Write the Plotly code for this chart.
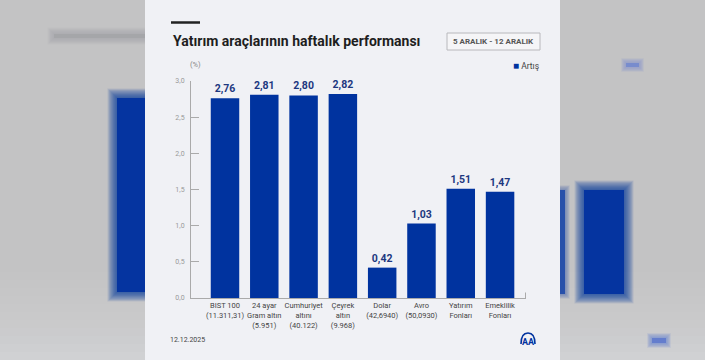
import plotly.graph_objects as go

# ---- data ----
categories = ["BIST 100<br>(11.311,31)", "24 ayar<br>Gram altın<br>(5.951)",
              "Cumhuriyet<br>altını<br>(40.122)", "Çeyrek<br>altın<br>(9.968)",
              "Dolar<br>(42,6940)", "Avro<br>(50,0930)",
              "Yatırım<br>Fonları", "Emeklilik<br>Fonları"]
values = [2.76, 2.81, 2.80, 2.82, 0.42, 1.03, 1.51, 1.47]
series_name = "Artış"
title_text = "Yatırım araçlarının haftalık performansı"
date_range = "5 ARALIK - 12 ARALIK"
footer_date = "12.12.2025"
y_ticks = [0, 0.5, 1.0, 1.5, 2.0, 2.5, 3.0]

W, H = 705, 360
BLUE = "#00339f"
NAVY = "#1d3880"

def px(x):
    return x / W

def py(y):
    return 1 - y / H

fig = go.Figure()
fig.add_trace(go.Bar(
    x=list(range(len(categories))), y=values, name=series_name,
    marker=dict(color=BLUE, line=dict(width=0)), width=0.725,
    texttemplate="%{y:.2f}", textposition="outside",
    textfont=dict(family="Roboto", size=10.5, color=NAVY, weight="bold"),
    cliponaxis=False, showlegend=False, hoverinfo="skip",
))

shapes = []

# soft gradient of the blurred backdrop
for i in range(12):
    shapes.append(dict(type="rect", xref="paper", yref="paper",
                       x0=0, x1=1, y0=py(360 - i * 8), y1=1,
                       fillcolor="rgba(190,191,194,0.06)", line=dict(width=0), layer="below"))

# blurred background elements (outside card)
def blur_rect(x0, y0, x1, y1, rgb, steps=12, spread=0.8, alpha=0.09):
    for i in range(steps, 0, -1):
        d = i * spread
        shapes.append(dict(type="rect", xref="paper", yref="paper",
                           x0=px(x0 - d), x1=px(x1 + d), y0=py(y1 + d), y1=py(y0 - d),
                           fillcolor=f"rgba({rgb},{alpha})",
                           line=dict(width=0), layer="below"))
    shapes.append(dict(type="rect", xref="paper", yref="paper",
                       x0=px(x0), x1=px(x1), y0=py(y1), y1=py(y0),
                       fillcolor=f"rgb({rgb})", line=dict(width=0), layer="below"))

blur_rect(117, 98, 160, 292, "5,52,160")
blur_rect(584, 190, 624, 294, "5,52,160")
blur_rect(554, 190, 565, 294, "40,80,170", steps=6)
blur_rect(54, 34, 160, 38, "165,166,169", steps=8, alpha=0.12)
blur_rect(626, 63, 639, 67, "120,140,205", steps=6, alpha=0.12)
blur_rect(652, 338, 666, 343, "100,125,205", steps=6, alpha=0.14)
# card on top of blurs
shapes.append(dict(type="rect", xref="paper", yref="paper", x0=px(145), x1=px(560),
                   y0=0, y1=1, fillcolor="#f0f1f5", line=dict(width=0), layer="below"))

# short dark rule above title
shapes.append(dict(type="line", xref="paper", yref="paper", x0=px(171), x1=px(200),
                   y0=py(22.5), y1=py(22.5), line=dict(color="#222222", width=2.5)))
# date box
shapes.append(dict(type="rect", xref="paper", yref="paper", x0=px(447), x1=px(540),
                   y0=py(50), y1=py(33), fillcolor="#f5f5f7",
                   line=dict(color="#b8b8bc", width=1)))
# right-end tick of x axis
shapes.append(dict(type="line", xref="paper", yref="paper", x0=px(525.5), x1=px(525.5),
                   y0=py(298), y1=py(292.5), line=dict(color="#aaaaaa", width=1)))
# AA logo arc
shapes.append(dict(type="path", xref="paper", yref="paper",
                   path=f"M {px(521)},{py(344)} Q {px(521)},{py(333)} {px(528)},{py(333)} Q {px(535)},{py(333)} {px(535)},{py(344)}",
                   line=dict(color=BLUE, width=1.6)))

annotations = [
    dict(text=f"<b>{title_text}</b>", x=px(171), y=py(41), xref="paper", yref="paper",
         xanchor="left", yanchor="middle", showarrow=False,
         font=dict(family="Roboto", size=14, color="#1e1e1e")),
    dict(text=f"<b>{date_range}</b>", x=px(493.5), y=py(41.5), xref="paper", yref="paper",
         xanchor="center", yanchor="middle", showarrow=False,
         font=dict(family="Roboto", size=8, color="#555555")),
    dict(text=f"<span style='color:{BLUE};font-size:10px'>■</span> {series_name}", x=px(541), y=py(65),
         xref="paper", yref="paper", xanchor="right", yanchor="middle", showarrow=False,
         font=dict(family="Roboto", size=8.5, color="#444444")),
    dict(text="(%)", x=px(195), y=py(64), xref="paper", yref="paper",
         xanchor="center", yanchor="middle", showarrow=False,
         font=dict(family="Roboto", size=7.5, color="#888888")),
    dict(text=footer_date, x=px(168), y=py(340), xref="paper", yref="paper",
         xanchor="left", yanchor="middle", showarrow=False,
         font=dict(family="Roboto", size=7, color="#444444")),
    dict(text="<b>AA</b>", x=px(528), y=py(342), xref="paper", yref="paper",
         xanchor="center", yanchor="middle", showarrow=False,
         font=dict(family="Roboto", size=9, color=BLUE)),
]

fig.update_layout(
    width=W, height=H, autosize=False,
    margin=dict(l=0, r=0, t=0, b=0, pad=0, autoexpand=False),
    paper_bgcolor="#d2d3d5", plot_bgcolor="rgba(0,0,0,0)",
    separators=",.",
    shapes=shapes, annotations=annotations,
    xaxis=dict(domain=[px(191), px(526)], range=[-0.865, 7.66], automargin=False,
               tickmode="array", tickvals=list(range(len(categories))), ticktext=categories,
               showline=True, linecolor="#aaaaaa", linewidth=1, ticks="",
               showgrid=False, zeroline=False,
               tickfont=dict(family="Roboto", size=7.5, color="#444444")),
    yaxis=dict(domain=[py(298), py(81)], range=[0, 3], automargin=False,
               tickmode="array", tickvals=y_ticks, tickformat=".1f",
               showline=True, linecolor="#aaaaaa", linewidth=1,
               ticks="inside", ticklen=8, tickcolor="#aaaaaa",
               showgrid=False, zeroline=False, ticklabelstandoff=4,
               tickfont=dict(family="Roboto", size=7, color="#999999")),
)

fig.write_html("out.html", config={"displayModeBar": False},
               post_script="document.documentElement.style.margin='0';document.body.style.margin='0';document.body.style.padding='0';document.body.style.overflow='hidden';")
